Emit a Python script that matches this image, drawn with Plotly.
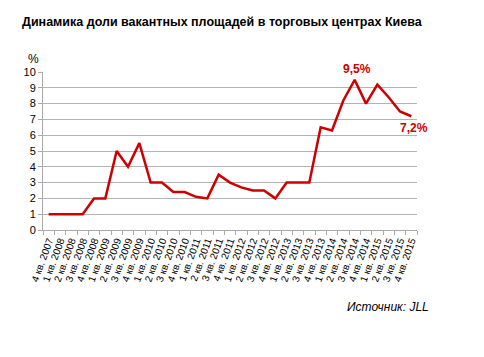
import plotly.graph_objects as go

quarters = ["4 кв. 2007"] + [f"{q} кв. {y}" for y in range(2008, 2016) for q in (1, 2, 3, 4)]
values = [1, 1, 1, 1, 2, 2, 5, 4, 5.5, 3, 3, 2.4, 2.4, 2.1, 2.0, 3.5, 3.0, 2.7, 2.5,
          2.5, 2.0, 3.0, 3.0, 3.0, 6.5, 6.3, 8.2, 9.5, 8.0, 9.2, 8.4, 7.5, 7.2]
y_ticks = list(range(0, 11))

FONT = "Liberation Sans, Arial, sans-serif"
RED = "#cc0000"
OFF = 8  # default page body margin

W, H = 484, 357
L, R, T, B = 43 - OFF, W - (417 - OFF), 72 - OFF, H - (230 - OFF)
PW, PH = W - L - R, H - T - B

fig = go.Figure()
fig.add_trace(go.Scatter(x=quarters, y=values, mode="lines",
                         line=dict(color=RED, width=2.5), hoverinfo="skip"))

fig.add_annotation(x=quarters[27], y=values[27], text="<b>9,5%</b>", showarrow=False,
                   yshift=11, xshift=2, font=dict(family=FONT, size=12, color=RED))
fig.add_annotation(x=quarters[32], y=values[32], text="<b>7,2%</b>", showarrow=False,
                   yshift=-12, xshift=3, font=dict(family=FONT, size=12, color=RED))
fig.add_annotation(x=-10 / PW, y=1, xref="paper", yref="paper", text="%", showarrow=False,
                   xanchor="center", yanchor="bottom", yshift=4,
                   font=dict(family=FONT, size=12, color="#000"))
fig.add_annotation(x=(388 - 43) / PW, y=-(307 - 230) / PH, xref="paper", yref="paper",
                   text="<i>Источник: JLL</i>", showarrow=False,
                   xanchor="center", yanchor="middle",
                   font=dict(family=FONT, size=12, color="#000"))

fig.update_layout(
    width=W, height=H,
    margin=dict(l=L, r=R, t=T, b=B),
    paper_bgcolor="white", plot_bgcolor="white",
    showlegend=False,
    font=dict(family=FONT, size=11, color="#000"),
    title=dict(text="<b>Динамика доли вакантных площадей в торговых центрах Киева</b>",
               x=(22 - OFF) / W, xanchor="left", y=1 - (22 - OFF) / H, yanchor="middle",
               font=dict(family=FONT, size=12.5, color="#000")),
)

fig.update_xaxes(
    type="category", range=[-0.5, 32.5], tickangle=-70, tickson="boundaries",
    tickmode="array", tickvals=quarters, ticktext=quarters,
    ticks="outside", ticklen=4, tickcolor="#aaa", showgrid=False,
    showline=True, linecolor="#aaa", linewidth=1, automargin=False,
    tickfont=dict(family=FONT, size=10, color="#000"),
)
fig.update_yaxes(
    range=[0, 10], tickvals=y_ticks, showgrid=True, gridcolor="#b3b3b3", gridwidth=1,
    showline=True, linecolor="#aaa", linewidth=1, zeroline=False, automargin=False,
    ticks="outside", ticklen=4, tickcolor="#aaa",
    tickfont=dict(family=FONT, size=11, color="#000"),
)

fig.write_html("out.html")
